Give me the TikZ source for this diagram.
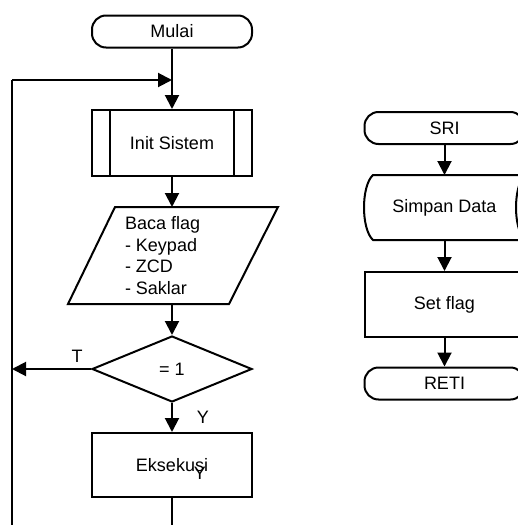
\documentclass[tikz,border=0pt]{standalone}
\usepackage{fontspec}
\setmainfont{Liberation Sans}
\usetikzlibrary{arrows.meta,shapes.geometric}
\begin{document}
\begin{tikzpicture}[x=1pt,y=-1pt, line width=2pt,
  every node/.style={font=\fontsize{18}{21.7}\selectfont, inner sep=0pt},
  box/.style={draw, rectangle, minimum width=160pt, minimum height=#1},
  term/.style={draw, rectangle, rounded corners=14pt, minimum width=160pt, minimum height=32pt},
  ghost/.style={rectangle, outer sep=0pt, minimum width=160pt, minimum height=#1},
  arr/.style={-{Triangle[length=14pt,width=14pt]}}]
\useasboundingbox (0,0) rectangle (518,525);
\clip (0,0) rectangle (518,525);
% left flowchart
\node[term] (mulai) at (172,31.5) {Mulai};
\coordinate (lp) at (12,80);
\coordinate (j) at (172,80);
\node[box=66pt] (init) at (172,143) {Init Sistem};
\draw ([xshift=19pt]init.north west) -- ([xshift=19pt]init.south west);
\draw ([xshift=-19pt]init.north east) -- ([xshift=-19pt]init.south east);
\node[ghost=97pt] (baca) at (172,255.5) {};
\draw (115,207) -- (278,207) -- (229,304) -- (68,304) -- cycle;
\node[anchor=west, align=left] (bacatxt) at (124,255.5) {Baca flag\\- Keypad\\- ZCD\\- Saklar};
\node[draw, diamond, minimum width=160pt, minimum height=66pt] (dec) at (172,369) {= 1};
\node (tlab) at (77,356) {T};
\node (ylab) at (203,417.5) {Y};
\node[box=64pt] (eks) at (172,465) {Eksekusi};
\node (ystray) at (200,473) {Y};
\coordinate (endb) at (172,540);
\coordinate (endl) at (12,540);
\draw[arr] (mulai) -- (init);
\draw[arr] (lp) -- (j);
\draw[arr] (init) -- (baca);
\draw[arr] (baca) -- (dec);
\draw[arr] (dec.west) -- (dec.west -| lp);
\draw[arr] (dec) -- (eks);
\draw (eks) -- (endb);
\draw (lp) -- (endl);
% right flowchart
\node[term] (sri) at (444.5,128) {SRI};
\node[ghost=65pt] (simpan) at (444.5,207.5) {Simpan Data};
\draw (373,175) -- (525,175) .. controls (513,186) and (513,229) .. (525,240)
  -- (373,240) .. controls (361,229) and (361,186) .. cycle;
\node[box=65pt] (set) at (444.5,304.5) {Set flag};
\node[term] (reti) at (444.5,383.5) {RETI};
\draw[arr] (sri) -- (simpan);
\draw[arr] (simpan) -- (set);
\draw[arr] (set) -- (reti);
\end{tikzpicture}
\end{document}
